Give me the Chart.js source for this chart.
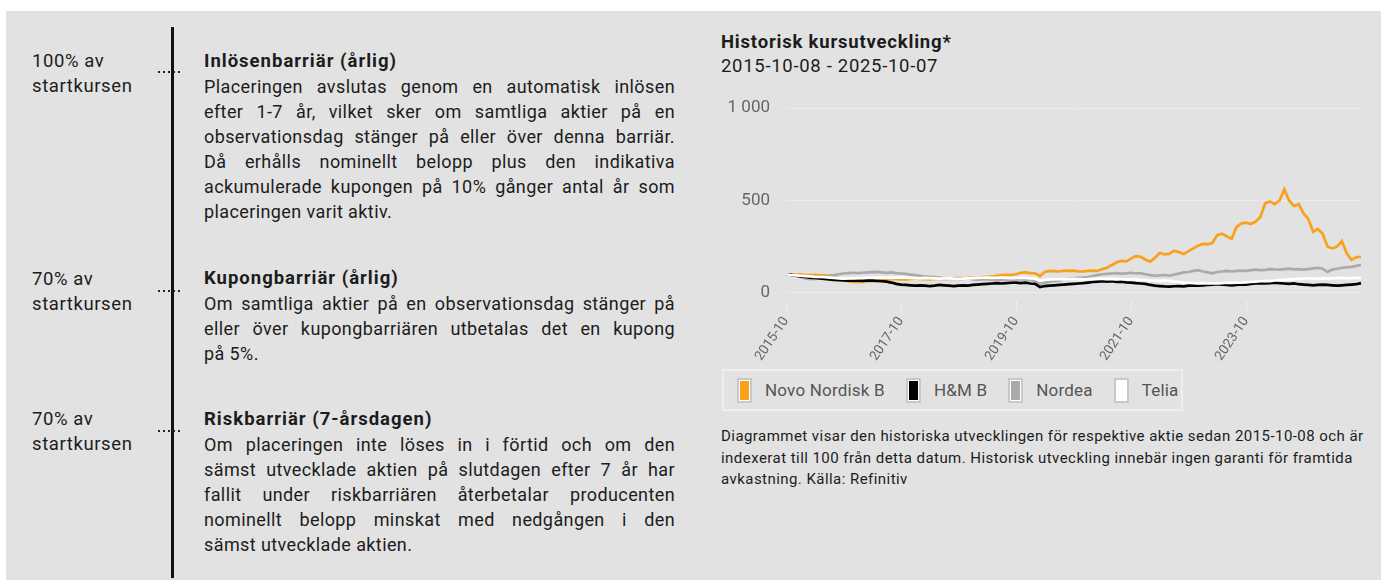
<!DOCTYPE html>
<html lang="sv">
<head>
<meta charset="utf-8">
<title>Historisk kursutveckling</title>
<script src="https://cdn.jsdelivr.net/npm/chart.js@4.4.1/dist/chart.umd.min.js"></script>
<style>
  html, body { margin: 0; padding: 0; background: #fff; }
  body {
    width: 1381px; height: 584px; position: relative; overflow: hidden;
    font-family: Roboto, "Noto Sans", sans-serif; color: #1c1c1c;
  }
  .panel { position: absolute; left: 6px; top: 11px; right: 0; bottom: 4px; background: #e2e2e2; }
  .vline { position: absolute; left: 171px; top: 27px; width: 3px; height: 551px; background: #111; }
  .block { position: absolute; line-height: 25px; }
  .lbl { left: 32px; width: 130px; font-size: 18.5px; letter-spacing: 0.6px; }
  .txt { left: 204px; width: 471px; font-size: 18px; letter-spacing: 0.4px; }
  .txt h3 { margin: 0; font-size: 18.5px; font-weight: 700; line-height: 25px; letter-spacing: 1px; }
  .txt .j { text-align: justify; text-align-last: justify; white-space: nowrap; }
  .dots {
    position: absolute; left: 158px; width: 25px; height: 2px;
    background: repeating-linear-gradient(to right, #222 0 1.6px, transparent 1.6px 5px);
  }
  .title { position: absolute; left: 721px; top: 30px; font-size: 18.5px; font-weight: 700; line-height: 24px; letter-spacing: 0.8px; }
  .subtitle { position: absolute; left: 721px; top: 54px; font-size: 18.5px; line-height: 24px; letter-spacing: 0.7px; }
  #chartBox { position: absolute; left: 721px; top: 82px; }
  .legend {
    position: absolute; left: 722px; top: 369px; width: 461px; height: 42px; box-sizing: border-box;
    border: 2px solid #efefef; display: flex; align-items: center; padding-left: 13px; gap: 21px;
    font-size: 17px; color: #555; letter-spacing: 0.2px;
  }
  .legend .item { display: flex; align-items: center; gap: 13px; white-space: nowrap; }
  .legend i {
    display: block; width: 15px; height: 25px; box-sizing: border-box;
    border: 2px solid #c8c8c8; box-shadow: inset 0 0 0 1px #fff;
  }
  .note {
    position: absolute; left: 721px; top: 426px; width: 660px;
    font-size: 15px; line-height: 21.5px; letter-spacing: 0.45px; white-space: nowrap; color: #1c1c1c;
  }
</style>
</head>
<body>
<div class="panel"></div>
<div class="vline"></div>

<div class="block lbl" style="top:49px">100% av<br>startkursen</div>
<div class="dots" style="top:71px"></div>
<div class="block txt" style="top:49px">
  <h3>Inlösenbarriär (årlig)</h3>
  <div class="j">Placeringen avslutas genom en automatisk inlösen</div>
  <div class="j">efter 1-7 år, vilket sker om samtliga aktier på en</div>
  <div class="j">observationsdag stänger på eller över denna barriär.</div>
  <div class="j">Då erhålls nominellt belopp plus den indikativa</div>
  <div class="j">ackumulerade kupongen på 10% gånger antal år som</div>
  <div>placeringen varit aktiv.</div>
</div>

<div class="block lbl" style="top:267px">70% av<br>startkursen</div>
<div class="dots" style="top:290px"></div>
<div class="block txt" style="top:266px">
  <h3>Kupongbarriär (årlig)</h3>
  <div class="j">Om samtliga aktier på en observationsdag stänger på</div>
  <div class="j">eller över kupongbarriären utbetalas det en kupong</div>
  <div>på 5%.</div>
</div>

<div class="block lbl" style="top:407px">70% av<br>startkursen</div>
<div class="dots" style="top:430px"></div>
<div class="block txt" style="top:407px">
  <h3>Riskbarriär (7-årsdagen)</h3>
  <div class="j">Om placeringen inte löses in i förtid och om den</div>
  <div class="j">sämst utvecklade aktien på slutdagen efter 7 år har</div>
  <div class="j">fallit under riskbarriären återbetalar producenten</div>
  <div class="j">nominellt belopp minskat med nedgången i den</div>
  <div>sämst utvecklade aktien.</div>
</div>

<div class="title">Historisk kursutveckling*</div>
<div class="subtitle">2015-10-08 - 2025-10-07</div>
<div id="chartBox"><canvas id="kursChart" width="642" height="281"></canvas></div>
<div class="legend" id="legend"></div>
<div class="note">Diagrammet visar den historiska utvecklingen för respektive aktie sedan 2015-10-08 och är<br>indexerat till 100 från detta datum. Historisk utveckling innebär ingen garanti för framtida<br>avkastning. Källa: Refinitiv</div>

<script>
// Aktier och färger
const seriesNames = ['Novo Nordisk B', 'H&M B', 'Nordea', 'Telia'];
const seriesColors = ['#f9a11b', '#000000', '#aaaaaa', '#ffffff'];

// Axlar
const xTickLabels = ['2015-10', '2017-10', '2019-10', '2021-10', '2023-10'];
const yTickValues = [0, 500, 1000];
const yTickLabels = ['0', '500', '1 000'];

// Månadsetiketter 2015-10 ... 2025-10
const months = [];
for (let i = 0; i <= 120; i++) {
  const y = 2015 + Math.floor((9 + i) / 12);
  const m = (9 + i) % 12 + 1;
  months.push(y + '-' + String(m).padStart(2, '0'));
}

// Indexerade värden (100 = 2015-10-08), en punkt per månad
const novo = [
  100, 100, 98, 100, 96, 95, 97, 94, 96, 92, 93, 75,
  65, 62, 58, 60, 58, 62, 63, 66, 70, 72, 75, 74,
  72, 72, 75, 78, 75, 73, 72, 75, 76, 74, 76, 78,
  80, 78, 80, 82, 80, 83, 86, 88, 92, 95, 97, 96,
  100, 108, 110, 106, 105, 90, 112, 118, 117, 115, 120, 118,
  120, 116, 115, 118, 120, 118, 128, 135, 150, 165, 172, 170,
  185, 198, 195, 180, 168, 190, 215, 208, 210, 228, 220, 210,
  225, 240, 255, 265, 262, 270, 312, 320, 305, 292, 355, 375,
  380, 372, 385, 410, 485, 495, 480, 500, 560, 500, 470, 480,
  430, 400, 330, 345, 320, 250, 240, 250, 280, 215, 178, 192,
  195
];
const hm = [
  100, 97, 92, 88, 85, 82, 80, 78, 75, 72, 70, 68,
  66, 65, 66, 65, 64, 66, 65, 64, 62, 60, 55, 48,
  44, 42, 40, 38, 40, 38, 36, 38, 42, 40, 38, 36,
  38, 40, 38, 42, 44, 46, 48, 50, 52, 50, 52, 54,
  55, 52, 55, 50, 48, 30, 36, 38, 40, 42, 44, 46,
  48, 50, 52, 55, 58, 60, 62, 60, 62, 58, 60, 56,
  55, 52, 50, 48, 42, 38, 36, 34, 33, 35, 36, 34,
  38, 40, 38, 40, 42, 44, 46, 44, 42, 40, 42, 45,
  44, 48, 50, 52, 50, 52, 55, 52, 50, 48, 50, 46,
  44, 42, 40, 42, 44, 42, 40, 38, 40, 42, 44, 46,
  52
];
const nordea = [
  100, 98, 95, 85, 78, 74, 75, 80, 85, 90, 95, 100,
  104, 106, 108, 106, 108, 110, 112, 113, 110, 108, 110, 106,
  104, 102, 98, 95, 92, 88, 86, 84, 82, 78, 75, 76,
  74, 75, 78, 72, 70, 73, 72, 70, 68, 70, 72, 70,
  72, 74, 72, 70, 65, 48, 55, 60, 62, 65, 70, 75,
  78, 80, 82, 85, 90, 95, 100, 102, 104, 106, 103, 105,
  108, 104, 106, 100, 95, 92, 94, 96, 92, 98, 104, 110,
  112, 118, 122, 115, 110, 105, 112, 115, 118, 115, 118, 120,
  118, 122, 125, 122, 124, 128, 126, 125, 128, 130, 126, 128,
  125, 128, 132, 135, 130, 112, 125, 130, 135, 138, 140, 145,
  150
];
const telia = [
  100, 96, 94, 92, 90, 88, 86, 85, 84, 82, 80, 78,
  76, 77, 78, 79, 80, 82, 81, 80, 82, 81, 80, 82,
  83, 82, 80, 79, 78, 80, 79, 78, 76, 77, 78, 76,
  75, 76, 78, 79, 80, 81, 82, 80, 81, 82, 80, 79,
  80, 81, 80, 78, 76, 64, 70, 72, 74, 73, 72, 74,
  75, 74, 73, 74, 75, 76, 75, 74, 75, 74, 73, 72,
  73, 72, 70, 68, 66, 65, 64, 66, 64, 60, 58, 55,
  54, 52, 50, 52, 50, 51, 50, 52, 54, 53, 55, 54,
  56, 58, 60, 62, 64, 63, 66, 68, 70, 72, 74, 75,
  76, 78, 77, 76, 78, 76, 78, 79, 80, 78, 79, 80,
  80
];
const seriesValues = [novo, hm, nordea, telia];
// Ritordning: Telia överst, Novo underst
const drawOrder = [4, 2, 3, 1];

// --- Textrader: krymp om en rad inte får plats ---
document.querySelectorAll('.txt .j').forEach(el => {
  let size = 18;
  while (el.scrollWidth > el.clientWidth + 0.5 && size > 14) {
    size -= 0.25;
    el.style.fontSize = size + 'px';
  }
});

// --- Legend ---
const legendEl = document.getElementById('legend');
seriesNames.forEach((name, i) => {
  const item = document.createElement('span');
  item.className = 'item';
  const sw = document.createElement('i');
  sw.style.background = seriesColors[i];
  item.appendChild(sw);
  item.appendChild(document.createTextNode(name));
  legendEl.appendChild(item);
});

// --- Diagram ---
Chart.defaults.font.family = 'Roboto, "Noto Sans", sans-serif';

new Chart(document.getElementById('kursChart'), {
  type: 'line',
  data: {
    labels: months,
    datasets: seriesNames.map((name, i) => ({
      label: name,
      data: seriesValues[i],
      borderColor: seriesColors[i],
      backgroundColor: seriesColors[i],
      borderWidth: 2.7,
      pointRadius: 0,
      tension: 0,
      fill: false,
      order: drawOrder[i]
    }))
  },
  options: {
    responsive: false,
    animation: false,
    devicePixelRatio: 1,
    layout: { padding: { top: 0, right: 2, left: 0, bottom: 0 } },
    plugins: {
      legend: { display: false },
      tooltip: { enabled: false }
    },
    scales: {
      x: {
        type: 'category',
        offset: false,
        border: { display: false },
        grid: {
          drawOnChartArea: false,
          drawTicks: true,
          tickLength: 10,
          color: 'rgba(255,255,255,0.45)'
        },
        ticks: {
          autoSkip: false,
          minRotation: 56,
          maxRotation: 56,
          padding: 3,
          color: '#666',
          font: { size: 13.5 },
          callback: function (val) {
            const l = this.getLabelForValue(val);
            return xTickLabels.includes(l) ? l : null;
          }
        },
        afterFit: s => { s.height = 62; }
      },
      y: {
        min: -45,
        max: 1000,
        border: { display: false },
        grid: { drawTicks: false, color: 'rgba(255,255,255,0.3)' },
        afterBuildTicks: s => { s.ticks = yTickValues.map(v => ({ value: v })); },
        ticks: {
          padding: 16,
          color: '#666',
          font: { size: 17 },
          callback: (v, i) => yTickLabels[i]
        },
        afterFit: s => { s.width = 65; }
      }
    }
  }
});
</script>
</body>
</html>
